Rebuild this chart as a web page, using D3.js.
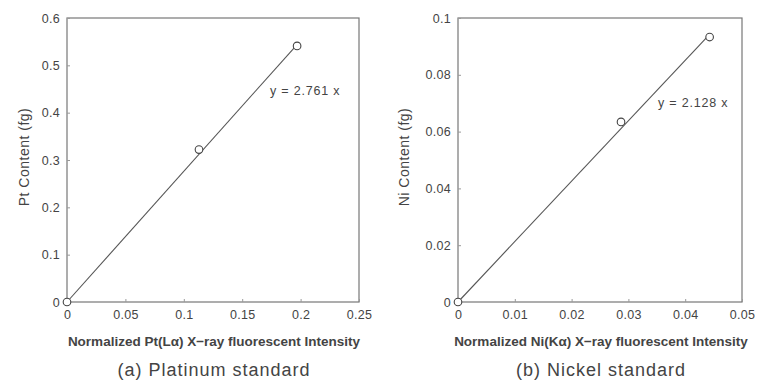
<!DOCTYPE html>
<meta charset="utf-8">
<script src="https://d3js.org/d3.v7.min.js"></script>
<style>
  body { margin: 0; background: #fff; }
  text { font-family: "Liberation Sans", Arial, sans-serif; fill: #444; }
</style>
<div id="chart"></div>
<script>

// (a) platinum standard
var ptX = [0, 0.113, 0.197];
var ptY = [0, 0.322, 0.541];
var ptSlope = 2.761;
var ptXTicks = [0, 0.05, 0.1, 0.15, 0.2, 0.25];
var ptYTicks = [0, 0.1, 0.2, 0.3, 0.4, 0.5, 0.6];

// (b) nickel standard
var niX = [0, 0.0287, 0.0443];
var niY = [0, 0.0634, 0.0933];
var niSlope = 2.128;
var niXTicks = [0, 0.01, 0.02, 0.03, 0.04, 0.05];
var niYTicks = [0, 0.02, 0.04, 0.06, 0.08, 0.1];

var panels = [
  { xs: ptX, ys: ptY, slope: ptSlope, xTicks: ptXTicks, yTicks: ptYTicks,
    left: 67, right: 359, xMax: 0.25, yMax: 0.6, yLabelX: 29,
    yLabel: "Pt Content (fg)", xLabel: "Normalized Pt(L\u03b1) X\u2212ray fluorescent Intensity",
    caption: "(a) Platinum standard", eq: "y = 2.761 x", eqX: 270, eqY: 95 },
  { xs: niX, ys: niY, slope: niSlope, xTicks: niXTicks, yTicks: niYTicks,
    left: 458, right: 742, xMax: 0.05, yMax: 0.1, yLabelX: 409,
    yLabel: "Ni Content (fg)", xLabel: "Normalized Ni(K\u03b1) X\u2212ray fluorescent Intensity",
    caption: "(b) Nickel standard", eq: "y = 2.128 x", eqX: 658, eqY: 107 }
];

var plotTop = 18, plotBottom = 302;

var svg = d3.select("#chart").append("svg")
  .attr("width", 759)
  .attr("height", 380);

panels.forEach(function(p) {
  var x = d3.scaleLinear().domain([0, p.xMax]).range([p.left, p.right]);
  var y = d3.scaleLinear().domain([0, p.yMax]).range([plotBottom, plotTop]);
  var fmt = function(d) { return d === 0 ? "0" : String(+d.toFixed(3)); };

  var g = svg.append("g");

  // frame
  g.append("rect")
    .attr("x", p.left).attr("y", plotTop)
    .attr("width", p.right - p.left).attr("height", plotBottom - plotTop)
    .attr("fill", "none").attr("stroke", "#777").attr("stroke-width", 1.2);

  var xAxis = g.append("g")
    .attr("transform", "translate(0," + plotBottom + ")")
    .call(d3.axisBottom(x).tickValues(p.xTicks).tickFormat(fmt).tickSizeInner(-3).tickSizeOuter(0).tickPadding(8));
  var yAxis = g.append("g")
    .attr("transform", "translate(" + p.left + ",0)")
    .call(d3.axisLeft(y).tickValues(p.yTicks).tickFormat(fmt).tickSizeInner(-3).tickSizeOuter(0).tickPadding(7));

  [xAxis, yAxis].forEach(function(a) {
    a.select(".domain").remove();
    a.selectAll(".tick line").attr("stroke", "#999");
    a.selectAll(".tick text")
      .style("font-family", "'Liberation Sans', Arial, sans-serif")
      .style("font-size", "12.5px")
      .style("letter-spacing", "0.3px")
      .attr("fill", "#555");
  });

  // fit line
  var xEnd = d3.max(p.xs);
  g.append("line")
    .attr("x1", x(0)).attr("y1", y(0))
    .attr("x2", x(xEnd)).attr("y2", y(p.slope * xEnd))
    .attr("stroke", "#555").attr("stroke-width", 1.1);

  g.selectAll("circle")
    .data(p.xs.map(function(d, i) { return [d, p.ys[i]]; }))
    .enter().append("circle")
    .attr("cx", function(d) { return x(d[0]); })
    .attr("cy", function(d) { return y(d[1]); })
    .attr("r", 3.8)
    .attr("fill", "#fff")
    .attr("stroke", "#444")
    .attr("stroke-width", 1.1);

  g.append("text")
    .attr("x", p.eqX).attr("y", p.eqY)
    .style("font-size", "12.5px")
    .style("letter-spacing", "0.8px")
    .attr("fill", "#333")
    .text(p.eq);

  g.append("text")
    .attr("transform", "translate(" + p.yLabelX + "," + 157 + ") rotate(-90)")
    .attr("text-anchor", "middle")
    .style("font-size", "14px")
    .style("letter-spacing", "0.5px")
    .attr("fill", "#555")
    .text(p.yLabel);

  var cx = (p.left + p.right) / 2;
  g.append("text")
    .attr("x", cx + 1).attr("y", 346)
    .attr("text-anchor", "middle")
    .style("font-size", "13.5px")
    .style("font-weight", "bold")
    .attr("fill", "#555")
    .text(p.xLabel);

  g.append("text")
    .attr("x", cx + 1).attr("y", 376)
    .attr("text-anchor", "middle")
    .style("font-size", "18px")
    .style("letter-spacing", "1px")
    .attr("fill", "#333")
    .text(p.caption);
});

</script>
